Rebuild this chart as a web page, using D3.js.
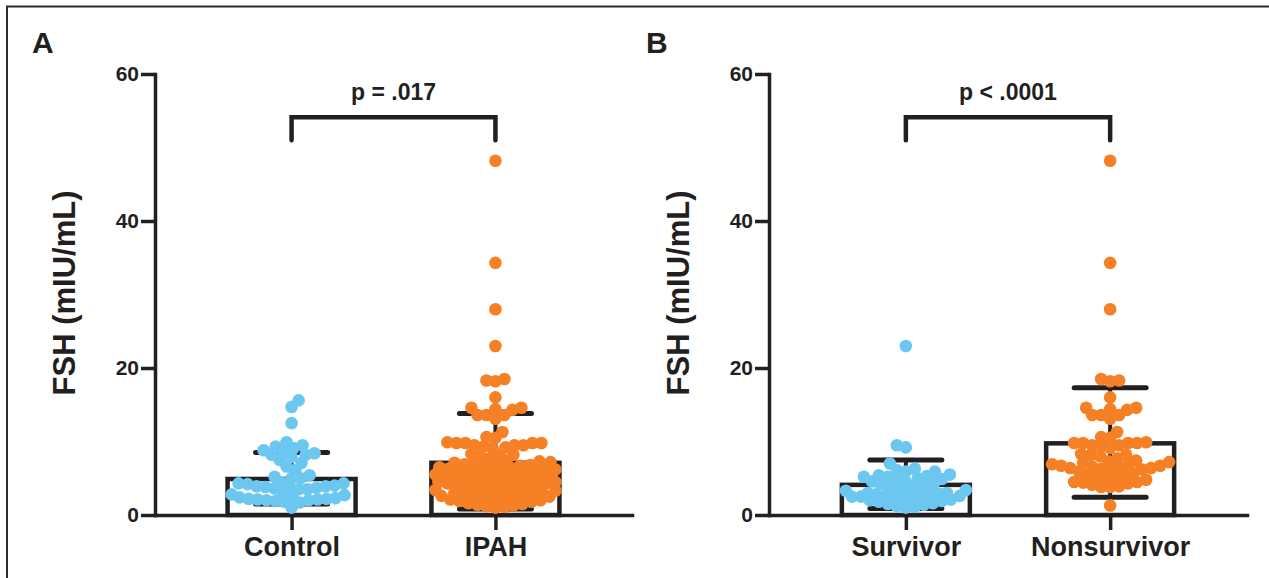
<!DOCTYPE html>
<html>
<head>
<meta charset="utf-8">
<title>FSH</title>
<style type="text/css">
body { margin: 0; background: #fff; }
text { font-family: 'Liberation Sans', Arial, Helvetica, sans-serif; font-weight: bold; fill: #231f20; }
</style>
</head>
<body>
<script src="https://cdn.jsdelivr.net/npm/d3@7"></script>
<script type="text/javascript">

// ---- data ----
const catsA = ["Control", "IPAH"];
const catsB = ["Survivor", "Nonsurvivor"];

const control = [15.6, 14.7, 12.5, 9.9, 9.5, 9.3, 9.1, 8.8, 8.6, 8.4, 8.2, 8.2, 7.9, 7.5, 7.1,
  6.6, 6.1, 5.4, 5.2, 5.0, 5.0, 4.4, 4.3, 4.3, 4.2, 4.0, 3.9, 3.9, 3.8, 3.8, 3.7, 3.6, 3.5,
  3.5, 3.0, 2.8, 2.7, 2.5, 2.4, 2.3, 2.2, 2.2, 2.1, 2.1, 2.0, 2.0, 1.9, 1.8, 1.7, 1.0];

const survivor = [23.0, 9.5, 9.2, 7.0, 6.3, 6.1, 5.9, 5.9, 5.5, 5.4, 5.3, 5.2, 5.2, 5.0, 4.9,
  4.8, 4.6, 4.5, 4.3, 4.2, 4.1, 3.9, 3.8, 3.6, 3.4, 3.3, 3.1, 3.0, 3.0, 2.9, 2.8, 2.8, 2.7,
  2.6, 2.6, 2.5, 2.5, 2.4, 2.3, 2.2, 2.1, 2.0, 1.9, 1.8, 1.6, 1.5, 1.4, 1.2, 1.1, 1.0];

const nonsurvivor = [48.2, 34.3, 28.0, 18.5, 18.3, 18.2, 16.0, 14.6, 14.6, 14.4, 14.3, 13.6,
  13.6, 13.6, 13.1, 11.3, 10.6, 10.5, 9.9, 9.8, 9.8, 9.8, 9.8, 9.5, 9.5, 9.3, 9.1, 8.3, 8.2,
  8.2, 8.0, 7.7, 7.4, 7.3, 7.2, 7.1, 6.9, 6.8, 6.7, 6.7, 6.6, 6.5, 6.4, 6.4, 6.3, 6.2, 6.1,
  5.9, 5.7, 5.5, 5.4, 5.2, 5.0, 4.9, 4.8, 4.5, 4.5, 4.4, 4.3, 4.1, 3.9, 3.8, 3.8, 1.3];

// IPAH patients are the survivors plus the nonsurvivors
const ipah = survivor.concat(nonsurvivor);

// bar = mean, whiskers = SD
const meanA = [4.9, 7.1];
const upperA = [8.5, 13.8];
const lowerA = [1.5, 0.8];
const meanB = [4.1, 9.75];
const upperB = [7.5, 17.3];
const lowerB = [0.9, 2.4];

const yTicks = [0, 20, 40, 60];
const pTextA = "p = .017";
const pTextB = "p < .0001";

const blue = "#6cc7f0";
const orange = "#f58025";
const ink = "#231f20";

// ---- layout ----
const W = 1269, H = 578;
const svg = d3.select("body").append("svg")
    .attr("width", W)
    .attr("height", H);

// outer frame (only top and left show in the picture)
svg.append("path")
    .attr("d", "M7," + (H + 5) + "V6.5H" + (W + 5))
    .attr("fill", "none")
    .attr("stroke", "#2b2b2b")
    .attr("stroke-width", 2);

var y = d3.scaleLinear().domain([0, 60]).range([515, 74]);

function swarm(values, cx, maxHalf, minD) {
  // simple beeswarm: bottom up, nearest free spot to the centre
  var placed = [];
  var order = values.map(function(v, i) { return {v: v, i: i}; })
      .sort(function(a, b) { return a.v - b.v; });
  order.forEach(function(p, n) {
    var py = y(p.v);
    var near = placed.filter(function(q) { return Math.abs(q.y - py) < minD; });
    var best = 0, bestD = -1, found = false;
    for (var k = 0; k <= maxHalf && !found; k += 1) {
      var sides = k == 0 ? [0] : (n % 2 ? [k, -k] : [-k, k]);
      for (var s = 0; s < sides.length; s++) {
        var px = cx + sides[s];
        var dmin = Infinity;
        near.forEach(function(q) {
          var d = Math.hypot(q.x - px, q.y - py);
          if (d < dmin) dmin = d;
        });
        if (dmin >= minD) { best = px; found = true; break; }
        if (dmin > bestD) { bestD = dmin; best = px; }
      }
    }
    placed.push({x: best, y: py, v: p.v});
  });
  return placed;
}

function panel(x0, x1, cats, groups, means, upper, lower, pText, letter) {
  var g = svg.append("g");
  var x = d3.scalePoint().domain(cats).range([x0, x1]).padding(0.67);

  // bars
  g.selectAll(".bar")
      .data(cats)
    .enter().append("rect")
      .attr("x", function(d) { return x(d) - 64; })
      .attr("width", 128)
      .attr("y", function(d, i) { return y(means[i]); })
      .attr("height", function(d, i) { return y(0) - y(means[i]); })
      .attr("fill", "#fff")
      .attr("stroke", ink)
      .attr("stroke-width", 4.5);

  // error bars
  cats.forEach(function(c, i) {
    var cx = x(c);
    g.append("line")
        .attr("x1", cx).attr("x2", cx)
        .attr("y1", y(upper[i])).attr("y2", y(lower[i]))
        .attr("stroke", ink).attr("stroke-width", 4);
    [upper[i], lower[i]].forEach(function(v) {
      g.append("line")
          .attr("x1", cx - 36).attr("x2", cx + 36)
          .attr("y1", y(v)).attr("y2", y(v))
          .attr("stroke", ink).attr("stroke-width", 5)
          .attr("stroke-linecap", "round");
    });
  });

  // axes
  var yAxis = g.append("g")
      .attr("transform", "translate(" + x0 + ",0)")
      .call(d3.axisLeft(y).tickValues(yTicks).tickSize(14).tickSizeOuter(0).tickPadding(2));
  var xAxis = g.append("g")
      .attr("transform", "translate(0," + y(0) + ")")
      .call(d3.axisBottom(x).tickSize(15).tickSizeOuter(0).tickPadding(7));
  [yAxis, xAxis].forEach(function(a) {
    a.select(".domain").attr("stroke", ink).attr("stroke-width", 3.5).attr("stroke-linecap", "square");
    a.selectAll(".tick line").attr("stroke", ink).attr("stroke-width", 3.5);
  });
  yAxis.selectAll(".tick text")
      .style("font-size", "21px")
      .attr("fill", ink);
  xAxis.selectAll(".tick text")
      .style("font-size", "27px")
      .attr("fill", ink);

  // points
  cats.forEach(function(c, i) {
    var pts = swarm(groups[i], x(c), 60, 9);
    g.selectAll(null)
        .data(pts)
      .enter().append("circle")
        .attr("cx", function(d) { return d.x; })
        .attr("cy", function(d) { return d.y; })
        .attr("r", 6.3)
        .attr("fill", i == 0 ? blue : orange);
  });

  // significance bracket
  var a = x(cats[0]), b = x(cats[1]);
  g.append("path")
      .attr("d", "M" + a + "," + y(51) + "V" + y(54.1) + "H" + b + "V" + y(51))
      .attr("fill", "none")
      .attr("stroke", ink)
      .attr("stroke-width", 4.5)
      .attr("stroke-linecap", "round");
  g.append("text")
      .attr("x", (a + b) / 2)
      .attr("y", y(56.5))
      .attr("text-anchor", "middle")
      .style("font-size", "23px")
      .text(pText);

  // y title
  g.append("text")
      .attr("transform", "translate(" + (x0 - 80) + ",293) rotate(-90)")
      .attr("text-anchor", "middle")
      .style("font-size", "31px")
      .text("FSH (mIU/mL)");

  // panel letter
  g.append("text")
      .attr("x", x0 - 123)
      .attr("y", 53)
      .style("font-size", "30px")
      .text(letter);
}

panel(155, 632, catsA, [control, ipah], meanA, upperA, lowerA, pTextA, "A");
panel(769, 1247, catsB, [survivor, nonsurvivor], meanB, upperB, lowerB, pTextB, "B");

</script>
</body>
</html>
